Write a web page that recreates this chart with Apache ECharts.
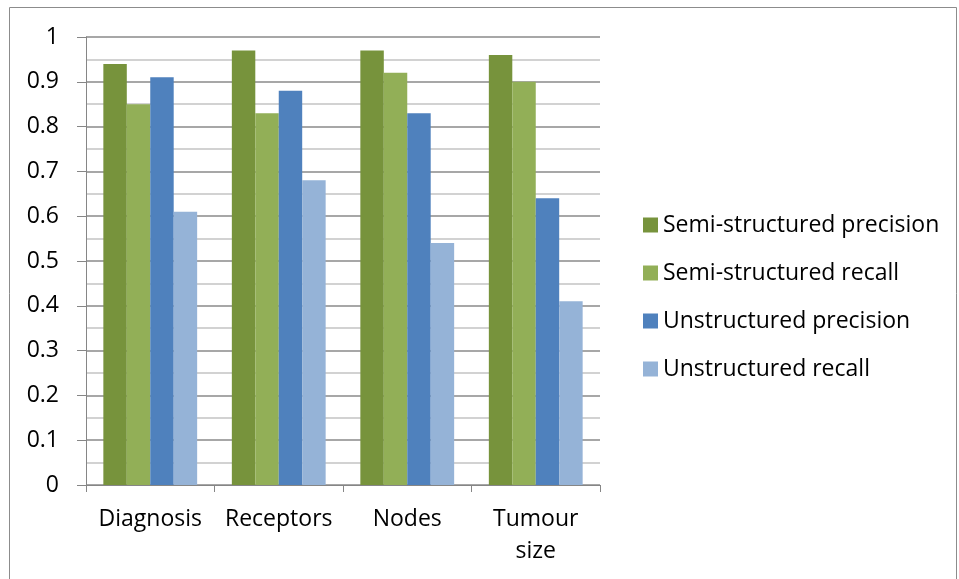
<!DOCTYPE html>
<html>
<head>
<meta charset="utf-8">
<script src="https://cdn.jsdelivr.net/npm/echarts@6/dist/echarts.min.js"></script>
<style>
  html, body { margin: 0; padding: 0; background: #fff; }
  #chart { width: 959px; height: 579px; }
</style>
</head>
<body>
<div id="chart"></div>
<script>
// categories and values
var categories = ['Diagnosis', 'Receptors', 'Nodes', 'Tumour\nsize'];
var semiPrecision = [0.94, 0.97, 0.97, 0.96];
var semiRecall = [0.85, 0.83, 0.92, 0.90];
var unstrPrecision = [0.91, 0.88, 0.83, 0.64];
var unstrRecall = [0.61, 0.68, 0.54, 0.41];
var seriesNames = ['Semi-structured precision', 'Semi-structured recall', 'Unstructured precision', 'Unstructured recall'];
var colors = ['#77933C', '#92AF57', '#4F81BD', '#95B3D7'];

var chart = echarts.init(document.getElementById('chart'));
var font = '"Open Sans", sans-serif';

function bar(i, data) {
  return {
    name: seriesNames[i],
    type: 'bar',
    data: data,
    barGap: '0%',
    barCategoryGap: '27%',
    itemStyle: { color: colors[i] },
    animation: false
  };
}

var option = {
  animation: false,
  graphic: [{
    type: 'rect',
    shape: { x: 9.5, y: 7.5, width: 947, height: 600 },
    style: { fill: 'none', stroke: '#8c8c8c', lineWidth: 1 }
  }],
  grid: { left: 86, right: 359, top: 37, bottom: 94 },
  legend: {
    orient: 'vertical',
    left: 638,
    top: 207,
    itemWidth: 15,
    itemHeight: 15,
    itemGap: 22,
    icon: 'rect',
    textStyle: { fontSize: 23, fontFamily: font, color: '#000', lineHeight: 26 },
    data: seriesNames
  },
  xAxis: {
    type: 'category',
    data: categories,
    axisLine: { lineStyle: { color: '#868686' } },
    axisTick: { show: true, interval: 0, length: 7, lineStyle: { color: '#868686' } },
    axisLabel: { interval: 0, fontSize: 23, fontFamily: font, color: '#000', margin: 18, lineHeight: 32 }
  },
  yAxis: {
    type: 'value',
    min: 0,
    max: 1,
    interval: 0.1,
    axisLine: { show: true, lineStyle: { color: '#868686' } },
    axisTick: { show: true, length: 9, lineStyle: { color: '#868686' } },
    axisLabel: { fontSize: 23, fontFamily: font, color: '#000', margin: 27 },
    splitLine: { lineStyle: { color: '#8a8a8a', width: 1.5 } },
    minorTick: { show: false, splitNumber: 2 },
    minorSplitLine: { show: true, lineStyle: { color: '#c4c4c4', width: 1.5 } }
  },
  series: [
    bar(0, semiPrecision),
    bar(1, semiRecall),
    bar(2, unstrPrecision),
    bar(3, unstrRecall)
  ]
};
chart.setOption(option);
</script>
</body>
</html>
